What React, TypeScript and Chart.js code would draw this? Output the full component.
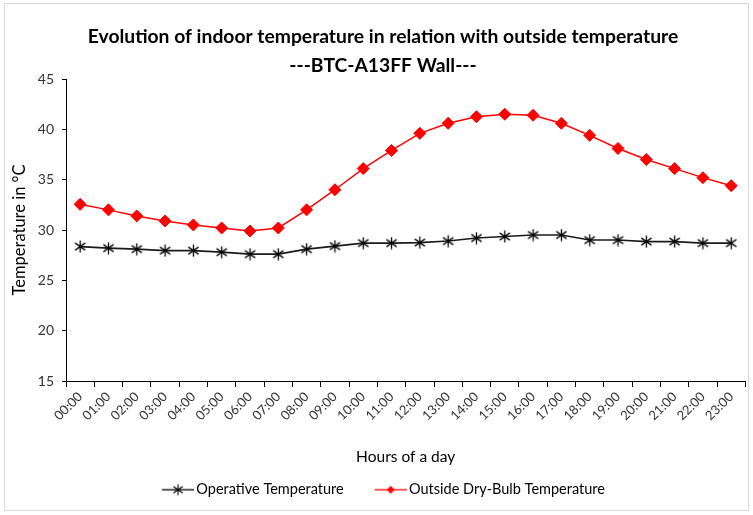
import React, { useEffect, useRef } from "react";
import { Chart, registerables } from "chart.js";
Chart.register(...registerables);

const hours = ["00:00","01:00","02:00","03:00","04:00","05:00","06:00","07:00","08:00","09:00","10:00","11:00","12:00","13:00","14:00","15:00","16:00","17:00","18:00","19:00","20:00","21:00","22:00","23:00"];
const operativeTemp = [28.35,28.2,28.1,27.95,27.95,27.8,27.6,27.6,28.1,28.4,28.7,28.7,28.75,28.9,29.2,29.35,29.5,29.5,29.0,29.0,28.85,28.85,28.7,28.7];
const outsideTemp = [32.55,32.0,31.4,30.9,30.5,30.2,29.9,30.2,32.0,34.0,36.1,37.9,39.6,40.6,41.25,41.5,41.4,40.6,39.4,38.1,37.0,36.1,35.2,34.4];
const seriesNames = ["Operative Temperature", "Outside Dry-Bulb Temperature"];
const titleLines = ["Evolution of indoor temperature in relation with outside temperature", "---BTC-A13FF Wall---"];
const yMin = 15;
const yMax = 45;
const yStep = 5;

const FONT = "Lato, 'Liberation Sans', sans-serif";

function makeStar(size: number, lw: number) {
  const c = document.createElement("canvas");
  c.width = size; c.height = size;
  const ctx = c.getContext("2d")!;
  ctx.strokeStyle = "#000"; ctx.lineWidth = lw;
  const m = size / 2, r = size / 2 - 0.5;
  ctx.beginPath();
  ctx.moveTo(m, m - r); ctx.lineTo(m, m + r);
  ctx.moveTo(m - r * 0.85, m - r * 0.6); ctx.lineTo(m + r * 0.85, m + r * 0.6);
  ctx.moveTo(m + r * 0.85, m - r * 0.6); ctx.lineTo(m - r * 0.85, m + r * 0.6);
  ctx.stroke();
  return c;
}

// legend icon: 58 wide, blank on the left, line + marker on the right 32px
function makeLegendIcon(kind: "star" | "diamond") {
  const c = document.createElement("canvas");
  c.width = 58; c.height = 14;
  const ctx = c.getContext("2d")!;
  ctx.lineWidth = 1.3;
  ctx.strokeStyle = kind === "star" ? "#000" : "#ff0000";
  ctx.beginPath(); ctx.moveTo(26, 7); ctx.lineTo(58, 7); ctx.stroke();
  const cx = 42;
  if (kind === "star") {
    ctx.drawImage(makeStar(12, 1.1), cx - 6, 1);
  } else {
    ctx.fillStyle = "#ff0000";
    ctx.beginPath(); ctx.moveTo(cx, 3); ctx.lineTo(cx + 4, 7); ctx.lineTo(cx, 11); ctx.lineTo(cx - 4, 7); ctx.closePath(); ctx.fill();
  }
  return c;
}

const framePlugin = {
  id: "frame",
  beforeDraw(chart: any) {
    const ctx = chart.ctx;
    ctx.save();
    ctx.fillStyle = "#fff";
    ctx.fillRect(0, 0, chart.width, chart.height);
    ctx.strokeStyle = "#d9d9d9";
    ctx.lineWidth = 1;
    ctx.strokeRect(4.5, 3.5, 744, 507);
    ctx.restore();
  },
  afterDraw(chart: any) {
    const ctx = chart.ctx;
    ctx.save();
    ctx.fillStyle = "#000";
    ctx.font = `bold 19.3px ${FONT}`;
    ctx.textAlign = "center";
    ctx.textBaseline = "middle";
    ctx.fillText(titleLines[0], 383, 37);
    ctx.fillText(titleLines[1], 383, 66);
    ctx.restore();
  },
};

export default function App() {
  const ref = useRef<HTMLCanvasElement | null>(null);
  useEffect(() => {
    if (!ref.current) return;
    const starImg = makeStar(13, 1.3);
    const icons = [makeLegendIcon("star"), makeLegendIcon("diamond")];
    const chart = new Chart(ref.current, {
      type: "line",
      data: {
        labels: hours,
        datasets: [
          {
            label: seriesNames[0],
            data: operativeTemp,
            borderColor: "#1a1a1a",
            backgroundColor: "#000",
            borderWidth: 1.6,
            pointStyle: starImg as any,
            pointRadius: 6,
            tension: 0,
          },
          {
            label: seriesNames[1],
            data: outsideTemp,
            borderColor: "#ff0000",
            backgroundColor: "#ff0000",
            borderWidth: 1.5,
            pointStyle: "rectRot",
            pointRadius: 6,
            pointBorderWidth: 1,
            tension: 0,
          },
        ],
      },
      options: {
        responsive: false,
        animation: false,
        layout: { padding: { top: 79, left: 0, right: 7, bottom: 8 } },
        plugins: {
          title: { display: false },
          legend: {
            position: "bottom",
            labels: {
              usePointStyle: true,
              pointStyleWidth: 48,
              padding: 10,
              color: "#000",
              font: { family: FONT, size: 14.5 },
              generateLabels: () =>
                seriesNames.map((n, i) => ({
                  text: n,
                  pointStyle: icons[i] as any,
                  datasetIndex: i,
                  fillStyle: "#000",
                  strokeStyle: "#000",
                  lineWidth: 0,
                  hidden: false,
                  fontColor: "#000",
                })),
            },
          },
          tooltip: { enabled: false },
        },
        scales: {
          x: {
            offset: true,
            grid: { offset: true, drawOnChartArea: false, drawTicks: true, tickLength: 6, color: "#000" },
            border: { color: "#000", width: 1 },
            ticks: {
              color: "#333",
              font: { family: FONT, size: 13 },
              minRotation: 45,
              maxRotation: 45,
              autoSkip: false,
              padding: 2,
            },
            title: {
              display: true,
              text: "Hours of a day",
              color: "#000",
              font: { family: FONT, size: 15.5 },
              padding: 6,
            },
            afterFit: (s: any) => { s.height = 91.5; },
          },
          y: {
            min: yMin,
            max: yMax,
            grid: { drawOnChartArea: false, drawTicks: true, tickLength: 4, color: "#000" },
            border: { color: "#000", width: 1 },
            ticks: {
              stepSize: yStep,
              color: "#333",
              font: { family: FONT, size: 14 },
              padding: 8,
            },
            title: {
              display: true,
              text: "Temperature in °C",
              color: "#000",
              font: { family: FONT, size: 16.5 },
              padding: 10,
            },
            afterFit: (s: any) => { s.width = 66; },
          },
        },
      },
      plugins: [framePlugin],
    });
    return () => chart.destroy();
  }, []);
  return (
    <div style={{ position: "absolute", left: 0, top: 0, width: 753, height: 515 }}>
      <canvas ref={ref} width={753} height={515} style={{ display: "block" }} />
    </div>
  );
}
